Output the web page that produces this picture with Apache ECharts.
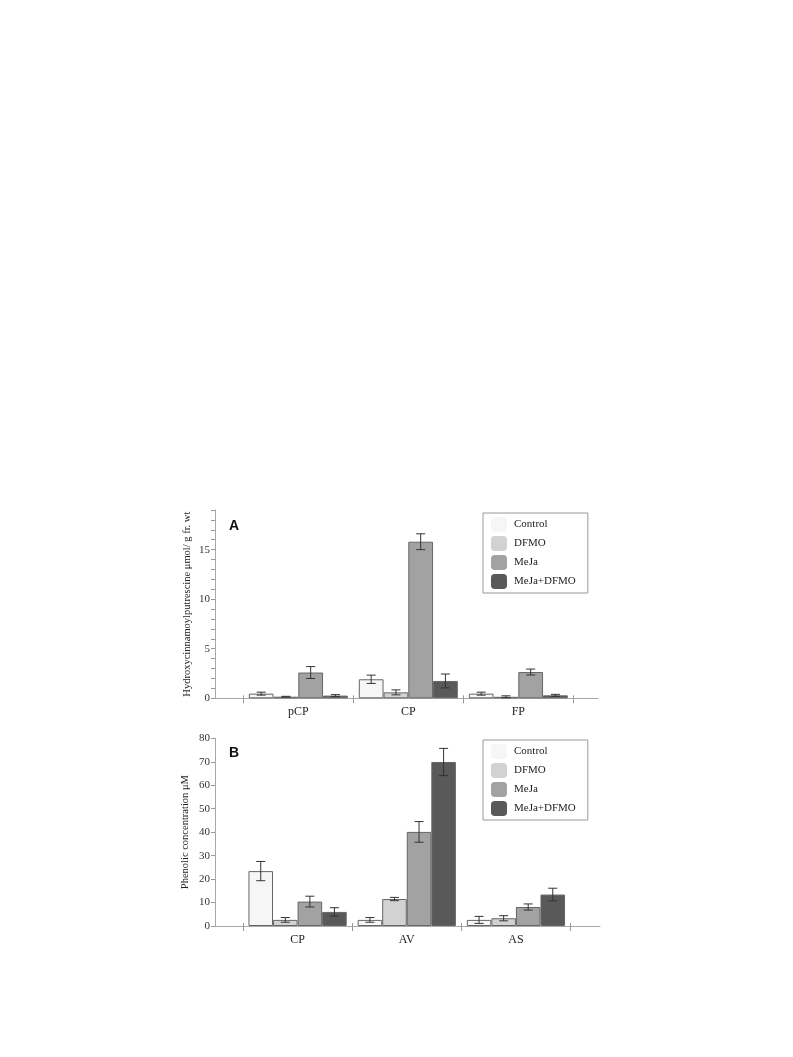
<!DOCTYPE html>
<html>
<head>
<meta charset="utf-8">
<script src="https://cdn.jsdelivr.net/npm/echarts@6/dist/echarts.min.js"></script>
<style>
html,body{margin:0;padding:0;background:#fff;}
#chart{width:793px;height:1057px;}
</style>
</head>
<body>
<div id="chart"></div>
<script>
// ---- Data ----
const seriesNames = ['Control', 'DFMO', 'MeJa', 'MeJa+DFMO'];

// Panel A: Hydroxycinnamoylputrescine (µmol/g fr. wt)
const categoriesA = ['pCP', 'CP', 'FP'];
const controlA = [0.47, 1.92, 0.47];
const dfmoA = [0.16, 0.6, 0.15];
const mejaA = [2.6, 15.8, 2.65];
const mejaDfmoA = [0.27, 1.75, 0.3];
const controlAErr = [0.15, 0.42, 0.15];
const dfmoAErr = [0.04, 0.25, 0.1];
const mejaAErr = [0.6, 0.8, 0.3];
const mejaDfmoAErr = [0.1, 0.7, 0.1];
const yTicksA = [0, 5, 10, 15];

// Panel B: Phenolic concentration (µM)
const categoriesB = ['CP', 'AV', 'AS'];
const controlB = [23.4, 2.6, 2.6];
const dfmoB = [2.6, 11.5, 3.3];
const mejaB = [10.4, 40.1, 8.1];
const mejaDfmoB = [6.0, 69.9, 13.4];
const controlBErr = [4.1, 1.0, 1.5];
const dfmoBErr = [1.0, 0.7, 1.1];
const mejaBErr = [2.3, 4.4, 1.3];
const mejaDfmoBErr = [1.8, 5.8, 2.7];
const yTicksB = [0, 10, 20, 30, 40, 50, 60, 70, 80];

// ---- Styles ----
const fills = ['#f6f6f6', '#d2d2d2', '#a2a2a2', '#595959'];
const serif = '"Liberation Serif", "DejaVu Serif", serif';
const axisGray = '#a8a8a8';
const BAR_FRACTION = 0.9;

const chart = echarts.init(document.getElementById('chart'));

function panel(p) {
  const g0 = p.gi * 2, g1 = p.gi * 2 + 1;
  const grids = [
    Object.assign({ containLabel: false }, p.outer),
    Object.assign({ containLabel: false }, p.inner)
  ];
  const xAxes = [
    { gridIndex: g0, type: 'value', min: 0, max: 1, axisLine: { show: true, lineStyle: { color: axisGray, width: 1 } },
      axisTick: { show: false }, axisLabel: { show: false }, splitLine: { show: false } },
    { gridIndex: g1, type: 'category', data: p.cats, position: 'bottom',
      axisLine: { show: false },
      axisTick: { show: true, length: 5, lineStyle: { color: '#999' } },
      axisLabel: { fontFamily: serif, fontSize: 12, color: '#222', margin: 8 },
      splitLine: { show: false } },
    { gridIndex: g1, type: 'category', data: p.cats, position: 'bottom',
      axisLine: { show: false },
      axisTick: { show: true, inside: true, length: 3, lineStyle: { color: '#999' } },
      axisLabel: { show: false }, splitLine: { show: false } }
  ];
  const yAxes = [
    { gridIndex: g0, type: 'value', min: 0, max: p.ymax, interval: p.yint,
      axisLine: { show: true, lineStyle: { color: axisGray, width: 1 } },
      axisTick: { show: true, length: 4, lineStyle: { color: '#999' } },
      axisLabel: { fontFamily: serif, fontSize: 11, color: '#333', margin: 5,
        formatter: v => (p.labels.indexOf(v) >= 0 ? String(v) : '') },
      splitLine: { show: false },
      name: p.name, nameLocation: 'middle', nameGap: p.nameGap,
      nameTextStyle: { fontFamily: serif, fontSize: 10.5, color: '#222' } },
    { gridIndex: g1, type: 'value', min: 0, max: p.ymax, show: false, splitLine: { show: false } }
  ];
  return { grids, xAxes, yAxes };
}

const pA = panel({
  gi: 0,
  outer: { left: 215, top: 510, width: 383, height: 188.3 },
  inner: { left: 243.3, top: 510, width: 330, height: 188.3 },
  ymax: 19, yint: 1, labels: yTicksA,
  name: 'Hydroxycinnamoylputrescine μmol/ g fr. wt', nameGap: 22,
  cats: categoriesA
});
const pB = panel({
  gi: 1,
  outer: { left: 215, top: 738.3, width: 385, height: 187.7 },
  inner: { left: 243, top: 738.3, width: 327.5, height: 187.7 },
  ymax: 80, yint: 10, labels: yTicksB,
  name: 'Phenolic concentration μM', nameGap: 24,
  cats: categoriesB
});

const xInnerIdx = [1, 4];
const yInnerIdx = [1, 3];

function barSeries(panelIdx, vals) {
  return vals.map((arr, i) => ({
    name: seriesNames[i],
    type: 'bar',
    xAxisIndex: xInnerIdx[panelIdx],
    yAxisIndex: yInnerIdx[panelIdx],
    data: arr,
    barGap: '0%',
    barCategoryGap: '10%',
    itemStyle: { color: fills[i], borderColor: '#666', borderWidth: 1 },
    emphasis: { disabled: true },
    z: 2
  }));
}

function errSeries(panelIdx, vals, errs) {
  return vals.map((arr, si) => ({
    name: seriesNames[si] + ' err',
    type: 'custom',
    xAxisIndex: xInnerIdx[panelIdx],
    yAxisIndex: yInnerIdx[panelIdx],
    data: arr.map((v, k) => [k, v, errs[si][k]]),
    z: 5,
    silent: true,
    renderItem: function (params, api) {
      const idx = api.value(0), v = api.value(1), e = api.value(2);
      const band = api.size([1, 0])[0];
      const bw = band * BAR_FRACTION / 4;
      const off = (si - 1.5) * bw;
      const top = api.coord([idx, v + e]);
      const bot = api.coord([idx, Math.max(0, v - e)]);
      const x = top[0] + off;
      const hw = 4.5;
      const st = { stroke: '#333', lineWidth: 1 };
      return {
        type: 'group',
        children: [
          { type: 'line', shape: { x1: x, y1: top[1], x2: x, y2: bot[1] }, style: st },
          { type: 'line', shape: { x1: x - hw, y1: top[1], x2: x + hw, y2: top[1] }, style: st },
          { type: 'line', shape: { x1: x - hw, y1: bot[1], x2: x + hw, y2: bot[1] }, style: st }
        ]
      };
    }
  }));
}

const valsA = [controlA, dfmoA, mejaA, mejaDfmoA];
const errsA = [controlAErr, dfmoAErr, mejaAErr, mejaDfmoAErr];
const valsB = [controlB, dfmoB, mejaB, mejaDfmoB];
const errsB = [controlBErr, dfmoBErr, mejaBErr, mejaDfmoBErr];

function legendAt(left, top) {
  return {
    orient: 'vertical', left: left, top: top,
    data: seriesNames,
    icon: 'roundRect',
    itemWidth: 16, itemHeight: 15, itemGap: 4,
    padding: [4, 12, 4, 8],
    borderColor: '#999', borderWidth: 1,
    itemStyle: { borderWidth: 0 },
    textStyle: { fontFamily: serif, fontSize: 11, color: '#222', padding: [0, 0, 0, 2] },
    selectedMode: false
  };
}

const option = {
  animation: false,
  backgroundColor: '#fff',
  title: [
    { text: 'A', left: 229, top: 519, padding: 0, textStyle: { fontFamily: '"Liberation Sans", Arial, sans-serif', fontSize: 14, fontWeight: 'bold', color: '#111' } },
    { text: 'B', left: 229, top: 746, padding: 0, textStyle: { fontFamily: '"Liberation Sans", Arial, sans-serif', fontSize: 14, fontWeight: 'bold', color: '#111' } }
  ],
  legend: [legendAt(483, 513), legendAt(483, 740)],
  grid: pA.grids.concat(pB.grids),
  xAxis: pA.xAxes.concat(pB.xAxes),
  yAxis: pA.yAxes.concat(pB.yAxes),
  series: [].concat(
    barSeries(0, valsA), errSeries(0, valsA, errsA),
    barSeries(1, valsB), errSeries(1, valsB, errsB)
  )
};
chart.setOption(option);
</script>
</body>
</html>
